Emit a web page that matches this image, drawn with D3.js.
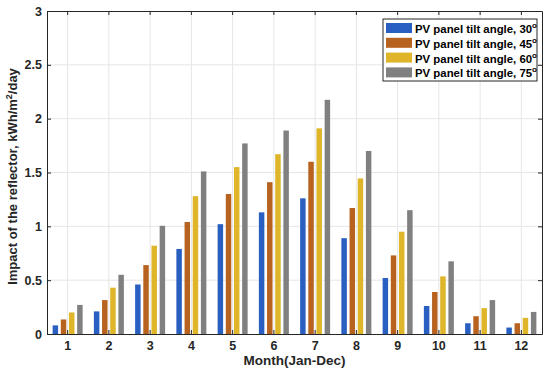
<!DOCTYPE html>
<meta charset="utf-8">
<script src="https://d3js.org/d3.v7.min.js"></script>
<style>
  body { margin: 0; background: #fff; }
  text { font-family: "Liberation Sans", Arial, sans-serif; font-weight: bold; }
</style>
<body>
<div id="chart"></div>
<script>
// data
var months = ["1", "2", "3", "4", "5", "6", "7", "8", "9", "10", "11", "12"];
var seriesNames = ["30", "45", "60", "75"];
var tilt30 = [0.08, 0.21, 0.46, 0.79, 1.02, 1.13, 1.26, 0.89, 0.52, 0.26, 0.10, 0.06];
var tilt45 = [0.135, 0.315, 0.64, 1.04, 1.30, 1.41, 1.60, 1.17, 0.73, 0.39, 0.165, 0.10];
var tilt60 = [0.20, 0.43, 0.82, 1.28, 1.55, 1.67, 1.91, 1.445, 0.95, 0.535, 0.24, 0.15];
var tilt75 = [0.27, 0.55, 1.005, 1.51, 1.77, 1.89, 2.175, 1.70, 1.15, 0.675, 0.315, 0.205];
var yTicks = [0, 0.5, 1, 1.5, 2, 2.5, 3];
var colors = ["#2a5fc2", "#b7621f", "#dfb52a", "#808080"];
var series = [tilt30, tilt45, tilt60, tilt75];

var W = 550, H = 371;
var margin = { top: 11, right: 8, bottom: 37, left: 47 };
var width = W - margin.left - margin.right,
    height = H - margin.top - margin.bottom;

var svg = d3.select("#chart").append("svg")
  .attr("width", W).attr("height", H);
var g = svg.append("g")
  .attr("transform", "translate(" + margin.left + "," + margin.top + ")");

var x = d3.scaleBand().domain(months).range([0, width]).padding(0);
var x1 = d3.scaleBand().domain(seriesNames).range([-15, 15]).paddingInner(0.33).paddingOuter(0);
var y = d3.scaleLinear().domain([0, 3]).range([height, 0]);

// grid
g.append("g").selectAll("line").data(yTicks.slice(1, -1)).enter().append("line")
  .attr("x1", 0).attr("x2", width)
  .attr("y1", d => y(d)).attr("y2", d => y(d))
  .attr("stroke", "#e6e6e6");
g.append("g").selectAll("line").data(months).enter().append("line")
  .attr("x1", d => x(d) + x.bandwidth() / 2).attr("x2", d => x(d) + x.bandwidth() / 2)
  .attr("y1", 0).attr("y2", height)
  .attr("stroke", "#e6e6e6");

// bars
series.forEach(function (vals, si) {
  g.append("g").selectAll("rect").data(vals).enter().append("rect")
    .attr("x", (d, i) => x(months[i]) + x.bandwidth() / 2 + x1(seriesNames[si]))
    .attr("width", x1.bandwidth())
    .attr("y", d => y(d))
    .attr("height", d => height - y(d))
    .attr("fill", colors[si]);
});

// axes
var yAxis = g.append("g").call(d3.axisLeft(y).tickValues(yTicks).tickFormat(d3.format("~g")).tickSizeInner(-4).tickSizeOuter(0).tickPadding(5));
var yAxisR = g.append("g").attr("transform", "translate(" + width + ",0)")
  .call(d3.axisRight(y).tickValues(yTicks).tickSizeInner(-4).tickSizeOuter(0).tickFormat(""));
var xAxis = g.append("g").attr("transform", "translate(0," + height + ")")
  .call(d3.axisBottom(x).tickSizeInner(-4).tickSizeOuter(0).tickPadding(7));
var xAxisT = g.append("g")
  .call(d3.axisTop(x).tickSizeInner(-4).tickSizeOuter(0).tickFormat(""));
[yAxis, yAxisR, xAxis, xAxisT].forEach(function (a) {
  a.selectAll("path").attr("stroke", "#262626");
  a.selectAll("line").attr("stroke", "#262626");
  a.selectAll("text").attr("fill", "#262626").style("font-size", "12.5px");
});

// axis labels
g.append("text")
  .attr("x", width / 2).attr("y", height + 31)
  .attr("text-anchor", "middle").style("font-size", "13.5px").attr("fill", "#262626")
  .text("Month(Jan-Dec)");
var yl = svg.append("text")
  .attr("transform", "translate(17," + (margin.top + height / 2 + 4) + ") rotate(-90)")
  .attr("text-anchor", "middle").style("font-size", "13px").attr("fill", "#262626");
yl.append("tspan").text("Impact of the reflector, kWh/m");
yl.append("tspan").attr("dy", -5).style("font-size", "9px").text("2");
yl.append("tspan").attr("dy", 5).text("/day");

// legend
var lg = svg.append("g").attr("transform", "translate(383,19)");
lg.append("rect").attr("width", 154).attr("height", 62)
  .attr("fill", "#fff").attr("stroke", "#262626").attr("stroke-width", 1);
seriesNames.forEach(function (s, i) {
  var row = lg.append("g").attr("transform", "translate(0," + (4 + i * 14.8) + ")");
  row.append("rect").attr("x", 3).attr("y", 0).attr("width", 26).attr("height", 10).attr("fill", colors[i]);
  var t = row.append("text").attr("x", 32).attr("y", 10).style("font-size", "11.4px").attr("fill", "#000");
  t.append("tspan").text("PV panel tilt angle, " + s);
  t.append("tspan").attr("dy", -5).style("font-size", "8px").text("o");
});
</script>
</body>
